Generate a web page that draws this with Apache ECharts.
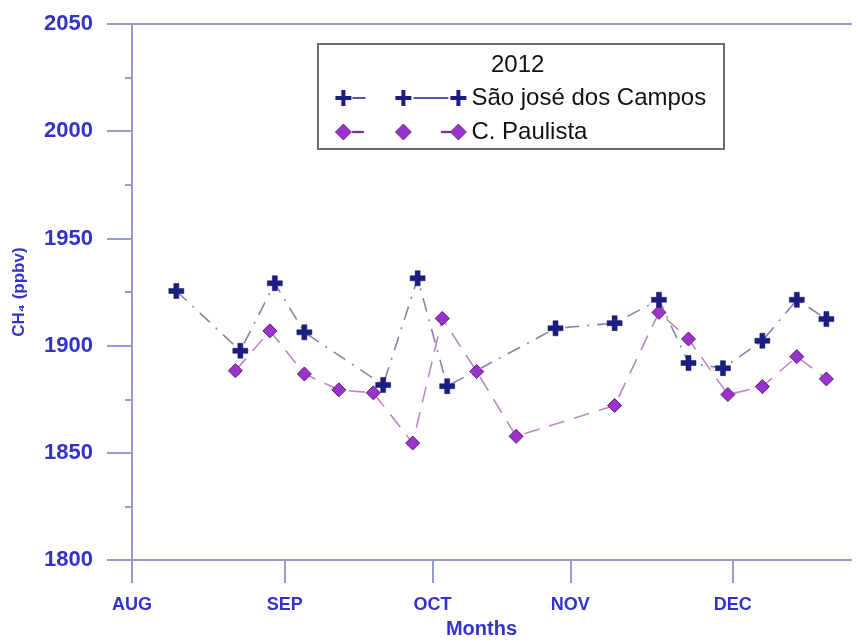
<!DOCTYPE html>
<html>
<head>
<meta charset="utf-8">
<script src="https://cdn.jsdelivr.net/npm/echarts@6/dist/echarts.min.js"></script>
<style>
html,body{margin:0;padding:0;background:#fff;}
#chart{width:859px;height:644px;}
</style>
</head>
<body>
<div id="chart"></div>
<script>
// x positions are day offsets from 1 Aug 2012
const monthTicks = [0, 31, 61, 89, 122];
const monthLabels = ['AUG', 'SEP', 'OCT', 'NOV', 'DEC'];
const yTicks = [1800, 1850, 1900, 1950, 2000, 2050];

const sjcName = 'São josé dos Campos';
const sjcDays = [9, 22, 29, 35, 51, 58, 64, 86, 98, 107, 113, 120, 128, 135, 141];
const sjcValues = [1925.5, 1897.6, 1929.1, 1906.2, 1881.7, 1931.4, 1881.1, 1908.1, 1910.5, 1921.4, 1891.9, 1889.5, 1902.3, 1921.4, 1912.4];

const cpName = 'C. Paulista';
const cpDays = [21, 28, 35, 42, 49, 57, 63, 70, 78, 98, 107, 113, 121, 128, 135, 141];
const cpValues = [1888.3, 1906.9, 1886.8, 1879.4, 1878.0, 1854.6, 1912.7, 1887.9, 1857.7, 1872.1, 1915.5, 1903.1, 1877.2, 1880.9, 1894.9, 1884.5];

const axisColor = '#9a9ad2';
const labelColor = '#3333cc';

function pairs(xs, ys) { return xs.map((x, i) => [x, ys[i]]); }

function crossPath(cx) {
  return 'M' + (cx - 2) + ',0h4v6h6v4h-6v6h-4v-6h-6v-4h6z';
}
function diamondPath(cx) {
  return 'M' + cx + ',0L' + (cx + 8) + ',8L' + cx + ',16L' + (cx - 8) + ',8z';
}
function dash(x1, x2) {
  return 'M' + x1 + ',7.3h' + (x2 - x1) + 'v1.4h' + (x1 - x2) + 'z';
}
const sjcIcon = 'path://' + crossPath(8) + crossPath(68) + crossPath(123) + dash(17, 30) + dash(78, 113);
const cpIcon = 'path://' + diamondPath(8) + diamondPath(68) + diamondPath(123) + dash(17, 28) + dash(106, 115);

const chart = echarts.init(document.getElementById('chart'), null, {renderer: 'canvas'});
chart.setOption({
  backgroundColor: '#ffffff',
  animation: false,
  grid: {left: 132, right: 8, top: 24, bottom: 82},
  graphic: [
    {type: 'rect', left: 317, top: 43, z: 5,
     shape: {width: 406, height: 105},
     style: {fill: '#ffffff', stroke: '#6e6e6e', lineWidth: 2}},
    {type: 'text', left: 518 - 27, top: 53, z: 6,
     style: {text: '2012', fontSize: 24, fontFamily: 'Liberation Sans, Arial, sans-serif', fill: '#111111'}}
  ],
  legend: {
    orient: 'vertical',
    left: 330, top: 81,
    itemWidth: 131, itemHeight: 16, itemGap: 10,
    selectedMode: false,
    z: 10,
    textStyle: {fontSize: 24, color: '#111111', fontFamily: 'Liberation Sans, Arial, sans-serif'},
    data: [
      {name: sjcName, icon: sjcIcon, itemStyle: {color: '#1c1c86', borderWidth: 0}},
      {name: cpName, icon: cpIcon, itemStyle: {color: '#9933cc', borderColor: '#5a1a7a', borderWidth: 0.8}}
    ]
  },
  xAxis: [{
    type: 'value', min: 0, max: 146,
    name: 'Months', nameLocation: 'middle', nameGap: 58,
    nameTextStyle: {color: labelColor, fontSize: 20, fontWeight: 'bold', fontFamily: 'Liberation Sans, Arial, sans-serif', padding: [0, 20, 0, 0]},
    axisLine: {show: true, onZero: false, lineStyle: {color: axisColor, width: 2}},
    axisTick: {show: true, length: 23, customValues: monthTicks, lineStyle: {color: axisColor, width: 2}},
    axisLabel: {
      customValues: monthTicks, margin: 36,
      color: labelColor, fontSize: 18, fontWeight: 'bold', fontFamily: 'Liberation Sans, Arial, sans-serif',
      formatter: v => monthLabels[monthTicks.indexOf(v)] || ''
    },
    splitLine: {show: false}
  }, {
    type: 'value', min: 0, max: 146, position: 'top',
    axisLine: {show: true, onZero: false, lineStyle: {color: axisColor, width: 2}},
    axisTick: {show: false}, axisLabel: {show: false}, splitLine: {show: false}
  }],
  yAxis: {
    type: 'value', min: yTicks[0], max: yTicks[yTicks.length - 1], interval: 50,
    name: 'CH₄ (ppbv)', nameLocation: 'middle', nameGap: 104,
    nameTextStyle: {color: labelColor, fontSize: 17, fontWeight: 'bold', fontFamily: 'Liberation Sans, Arial, sans-serif'},
    axisLine: {show: true, lineStyle: {color: axisColor, width: 2}},
    axisTick: {show: true, length: 25, lineStyle: {color: axisColor, width: 2}},
    minorTick: {show: true, splitNumber: 2, length: 7, lineStyle: {color: axisColor, width: 2}},
    axisLabel: {margin: 39, color: labelColor, fontSize: 22, fontWeight: 'bold', fontFamily: 'Liberation Sans, Arial, sans-serif',
      formatter: v => String(v)},
    splitLine: {show: false}
  },
  series: [{
    name: sjcName, type: 'line',
    data: pairs(sjcDays, sjcValues),
    symbol: 'path://M4,0h4v4h4v4h-4v4h-4v-4h-4v-4h4z', symbolSize: 15,
    itemStyle: {color: '#1c1c86', borderColor: '#10104a', borderWidth: 0.5},
    lineStyle: {color: '#8383ad', width: 1.6, type: [14, 8, 2, 8]},
    z: 3
  }, {
    name: cpName, type: 'line',
    data: pairs(cpDays, cpValues),
    symbol: 'diamond', symbolSize: 14,
    itemStyle: {color: '#9933cc', borderColor: '#5a1a7a', borderWidth: 1},
    lineStyle: {color: '#bb88c4', width: 1.6, type: [16, 10]},
    z: 2
  }]
});
</script>
</body>
</html>
